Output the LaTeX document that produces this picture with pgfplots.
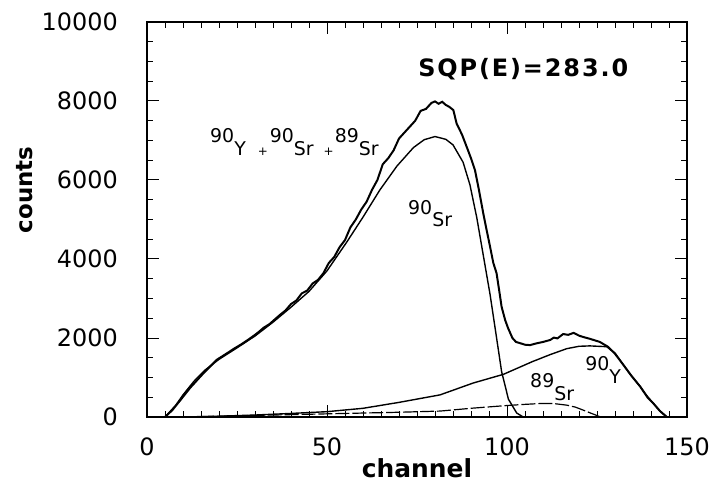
\documentclass[border=0pt]{standalone}
\usepackage{fontspec}
\setmainfont{DejaVu Sans}
\newfontfamily\labfont[LetterSpace=8]{DejaVu Sans}
\usepackage{pgfplots}
\pgfplotsset{compat=1.18}

% nuclide label: mass number raised above the element symbol
\newcommand{\nuc}[2]{\raisebox{0.65em}{#1}#2}
\newcommand{\pl}{{\fontsize{12}{12}\selectfont +}}

\begin{document}
\begin{tikzpicture}
\path[use as bounding box] (-147bp,-68bp) rectangle (568bp,417bp);
\begin{axis}[
  width=540bp, height=395bp, scale only axis,
  xmin=0, xmax=150, ymin=0, ymax=10000,
  xtick={0,50,100,150}, ytick={0,2000,...,10000},
  minor x tick num=9, minor y tick num=3,
  tick align=inside, major tick length=12bp, minor tick length=6bp,
  tick style={black, line width=1pt},
  axis line style={line width=1.3pt},
  scaled ticks=false,
  /pgf/number format/1000 sep={},
  /pgf/number format/assume math mode=true,
  ticklabel style={font=\fontsize{24}{24}\selectfont},
  yticklabel style={anchor=east, inner sep=0pt, xshift=-29bp},
  xticklabel style={anchor=north, inner sep=0pt, yshift=-21bp},
  xlabel={channel}, ylabel={counts},
  label style={font=\bfseries\fontsize{25}{25}\selectfont, inner sep=0pt},
  xlabel style={at={(axis description cs:0.5,-0.104)}, anchor=north},
  ylabel style={at={(axis description cs:-0.211,0.575)}, anchor=south,
    font=\bfseries\fontsize{23}{23}\selectfont},
]
% measured spectrum 90Y + 90Sr + 89Sr
\addplot[black, line width=2pt] coordinates {
 (5,0) (7,170) (9.3,430) (12,740) (15.7,1110) (19.4,1450) (22,1600) (24,1720)
 (26,1830) (28,1950) (30,2080) (31,2150) (32.4,2260) (34,2350) (35.5,2470)
 (37,2590) (38.5,2700) (40,2860) (41.5,2950) (43,3130) (44.5,3200) (46,3380)
 (47.5,3470) (49,3640) (50.5,3900) (52,4050) (53.5,4300) (55,4480) (56.5,4800)
 (58,5000) (59.5,5250) (61,5450) (62.5,5750) (64,6000) (65.5,6400) (67,6550)
 (68.5,6750) (70,7050) (71.5,7200) (73,7350) (74.5,7500) (76,7750) (77.5,7800)
 (79,7950) (80,7990) (81,7930) (82,7980) (83,7900) (84,7850) (85.1,7770)
 (86,7430) (87.5,7150) (88.8,6840) (90,6550) (91.1,6250) (92.2,5750) (93.4,5160)
 (94.3,4750) (95.3,4310) (96.2,3900) (97.1,3640) (98,3100) (98.5,2790)
 (99.5,2450) (100.3,2250) (101.5,2000) (102.5,1900) (103.6,1870) (105,1830)
 (106.4,1820) (108,1860) (110,1900) (112,1950) (113,2010) (114,1990)
 (115.6,2100) (117,2080) (118.5,2130) (120,2060) (121,2030) (123,1980)
 (125.8,1900) (128,1780) (130,1600) (132,1360) (134.5,1050) (137,770)
 (139,500) (140.6,350) (142.5,150) (144.4,0)};
% 90Sr component
\addplot[black, line width=1.4pt] coordinates {
 (5,0) (8,300) (10,560) (13,900) (16,1180) (20,1460) (25,1750) (30,2050)
 (35,2400) (40,2780) (45,3180) (50,3700) (55.5,4430) (60,5060) (64.7,5750)
 (69.4,6350) (74,6820) (77,7020) (80,7100) (83,7030) (85,6890) (87.8,6450)
 (89.7,5880) (91.6,5050) (93.4,4100) (95.3,3100) (96.7,2250) (98.5,1150)
 (100.4,450) (102.7,100) (104.5,0)};
% 90Y component
\addplot[black, line width=1.4pt] coordinates {
 (10,0) (20,20) (30,50) (40,90) (50,135) (60,220) (70,370) (81.4,560)
 (90.6,860) (99,1080) (107,1400) (112,1580) (116.6,1730) (120,1790) (123,1800)
 (127.7,1780) (130,1620) (132,1360) (134.5,1050) (137,770) (139,520)
 (140.6,350) (142.5,150) (144.4,0)};
% 89Sr component
\addplot[black, line width=1.2pt, dash pattern=on 14pt off 3pt] coordinates {
 (10,0) (20,20) (30,40) (40,60) (50,80) (60,100) (70,120) (81.4,150)
 (90.6,225) (99.9,290) (105,320) (109,340) (113,340) (116.6,300) (119,250)
 (121,180) (123.5,90) (126,0)};

\begin{scope}[every node/.style={anchor=base west, inner sep=0pt,
    font=\fontsize{19}{19}\selectfont}]
\node at (axis cs:17.5,6630)
  {\nuc{90}{Y}\hspace{12bp}\pl\hspace{2bp}\nuc{90}{Sr}\hspace{10bp}\pl\hspace{1bp}\nuc{89}{Sr}};
\node at (axis cs:72.5,4820) {\nuc{90}{Sr}};
\node at (axis cs:106.4,430) {\nuc{89}{Sr}};
\node at (axis cs:121.7,860) {\nuc{90}{Y}};
\end{scope}
\node[anchor=base west, inner sep=0pt, font=\labfont\bfseries\fontsize{24}{24}\selectfont]
  at (axis cs:75.3,8620) {SQP(E)=283.0};
\end{axis}
\end{tikzpicture}
\end{document}
